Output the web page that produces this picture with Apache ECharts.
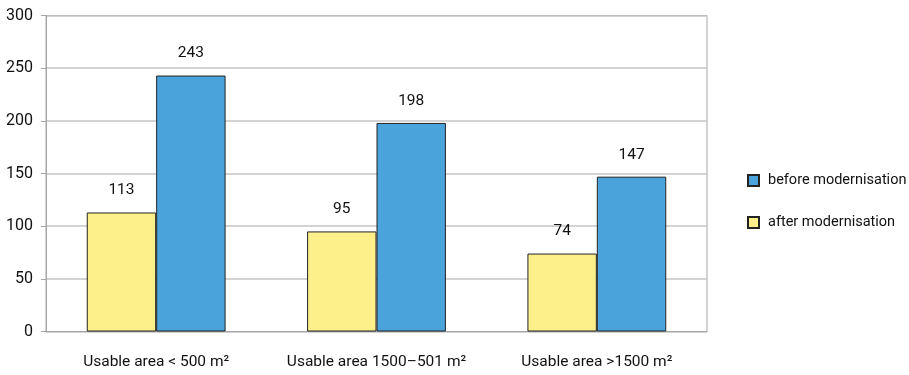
<!DOCTYPE html>
<html>
<head>
<meta charset="utf-8">
<script src="https://cdn.jsdelivr.net/npm/echarts@6/dist/echarts.min.js"></script>
<style>
  html, body { margin: 0; padding: 0; background: #fff; }
  #chart { width: 909px; height: 375px; }
</style>
</head>
<body>
<div id="chart"></div>
<script>
// Chart data
const categories = ['Usable area < 500 m²', 'Usable area 1500–501 m²', 'Usable area >1500 m²'];
const afterValues = [113, 95, 74];
const beforeValues = [243, 198, 147];
const yTicks = [0, 50, 100, 150, 200, 250, 300];

const FONT = 'Roboto, "DejaVu Sans Condensed", sans-serif';
const FONT_SIZE = 15.5;

const chart = echarts.init(document.getElementById('chart'));

const labelStyle = {
  show: true,
  position: 'top',
  distance: 14,
  color: '#111',
  fontFamily: FONT,
  fontSize: FONT_SIZE
};

chart.setOption({
  animation: false,
  backgroundColor: '#fff',
  textStyle: { fontFamily: FONT },
  grid: {
    left: 46, right: 202, top: 15.5, bottom: 43.5,
    show: true, borderColor: '#a6a6a6', borderWidth: 1,
    containLabel: false
  },
  legend: {
    orient: 'vertical',
    left: 747, top: 173,
    padding: 0,
    itemWidth: 11, itemHeight: 11, itemGap: 27,
    icon: 'rect',
    textStyle: { fontFamily: FONT, fontSize: 14.5, color: '#111', padding: [0, 0, 0, 4] },
    data: ['before modernisation', 'after modernisation']
  },
  xAxis: {
    type: 'category',
    data: categories,
    axisLine: { lineStyle: { color: '#a6a6a6' } },
    axisTick: { show: false },
    axisLabel: { interval: 0, color: '#111', fontFamily: FONT, fontSize: FONT_SIZE, margin: 23 }
  },
  yAxis: {
    type: 'value',
    min: yTicks[0], max: yTicks[yTicks.length - 1], interval: 50,
    axisLine: { show: true, lineStyle: { color: '#a6a6a6' } },
    axisTick: { show: true, length: 5, lineStyle: { color: '#a6a6a6' } },
    axisLabel: { color: '#111', fontFamily: FONT, fontSize: 16, margin: 13 },
    splitLine: { lineStyle: { color: '#c4c4c4', width: 1.5 } }
  },
  series: [
    {
      name: 'after modernisation',
      type: 'bar',
      data: afterValues,
      barGap: '0%',
      barCategoryGap: '37%',
      itemStyle: { color: '#fdf08b', borderColor: '#222', borderWidth: 1 },
      label: labelStyle
    },
    {
      name: 'before modernisation',
      type: 'bar',
      data: beforeValues,
      barGap: '0%',
      barCategoryGap: '37%',
      itemStyle: { color: '#4ba3db', borderColor: '#222', borderWidth: 1 },
      label: labelStyle
    }
  ]
});
</script>
</body>
</html>
